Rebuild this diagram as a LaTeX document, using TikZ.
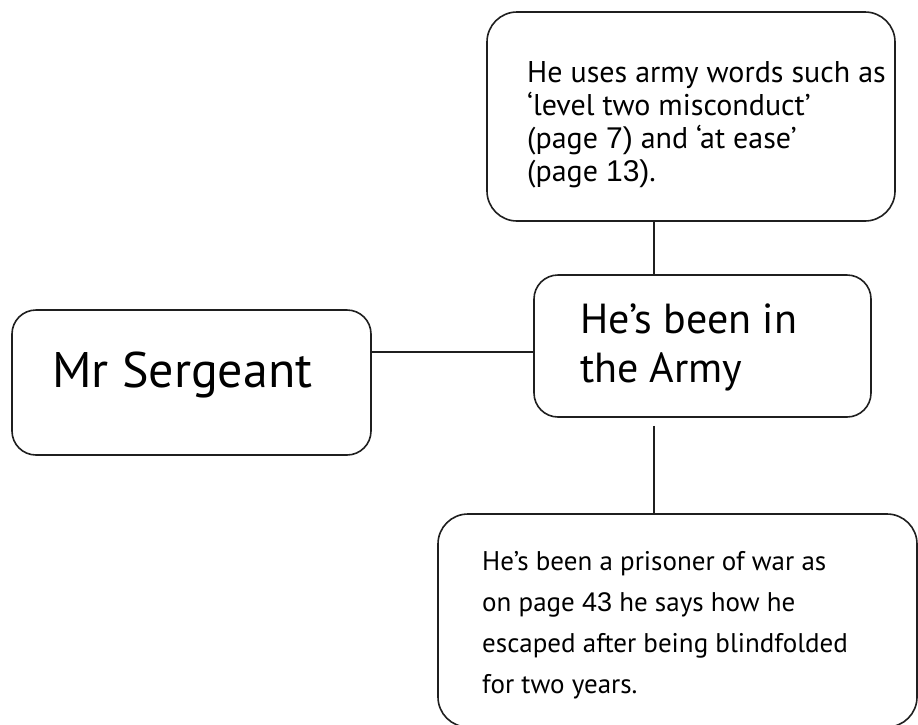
\documentclass[tikz,border=0pt]{standalone}
\usepackage{fontspec}
\setmainfont{PT Sans}
\newfontfamily\numf{Liberation Sans}
\begin{document}
\begin{tikzpicture}[x=1pt,y=-1pt,
  box/.style={draw=black!88, line width=1.6pt, rounded corners=24pt, inner sep=0pt, fill=white},
  link/.style={draw=black!88, line width=1.5pt},
  txt/.style={anchor=base west, inner sep=0pt, align=left, text=black}]
\useasboundingbox (0,0) rectangle (918,724);
\fill[white] (0,0) rectangle (918,724);
% boxes
\node[box, minimum width=408pt, minimum height=209pt, rounded corners=30pt] (uses) at (691,116.5) {};
\node[box, minimum width=359pt, minimum height=145pt] (serg) at (191.5,382.5) {};
\node[box, minimum width=337pt, minimum height=142pt] (army) at (702.5,346) {};
\node[box, minimum width=479pt, minimum height=213pt, rounded corners=30pt] (pow) at (677.5,620.5) {};
% helper coordinates
\coordinate (spine) at (654,0);
\coordinate (hline) at (0,352);
% connectors
\draw[link] (uses.south -| spine) -- (army.north -| spine);
\draw[link, shorten <=8pt] (army.south -| spine) -- (pow.north -| spine);
\draw[link] (serg.east |- hline) -- (army.west |- hline);
% texts (base anchor = baseline of the last line)
\node[txt, font=\fontsize{30}{33}\selectfont] (usestxt) at (527,181)
  {He uses army words such as\\
   ‘level two misconduct’\\
   (page {\numf 7)} and ‘at ease’\\
   (page {\numf 13)}.};
\node[txt, font=\fontsize{50}{58}\selectfont] (sergtxt) at (52,387) {Mr Sergeant};
\node[txt, font=\fontsize{42}{49}\selectfont] (armytxt) at (580,382)
  {He’s been in\\ the Army};
\node[txt, font=\fontsize{27}{41}\selectfont] (powtxt) at (482,693)
  {He’s been a prisoner of war as\\
   on page {\numf 43} he says how he\\
   escaped after being blindfolded\\
   for two years.};
\end{tikzpicture}
\end{document}
